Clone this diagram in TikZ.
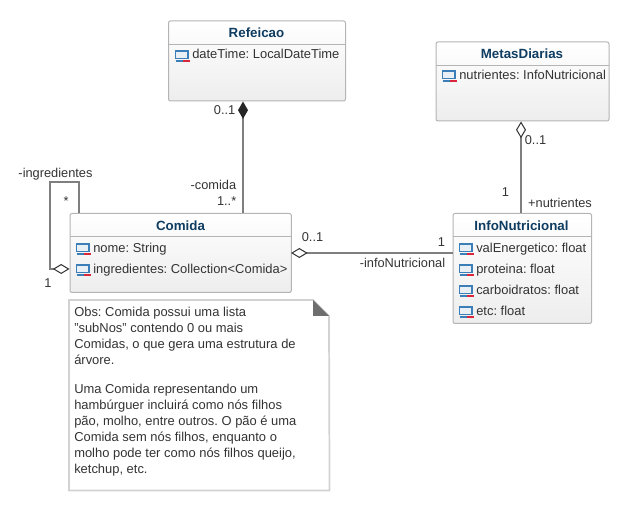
\documentclass[tikz,border=0pt]{standalone}
\usepackage{fontspec}
\setmainfont{Liberation Sans}
\usetikzlibrary{arrows.meta}
\definecolor{titleblue}{HTML}{0F3D61}
\definecolor{textgray}{HTML}{333333}
\definecolor{boxgray}{HTML}{B4B4B4}
\definecolor{linegray}{HTML}{7F7F7F}
\definecolor{notegray}{HTML}{D2D2D2}
\definecolor{foldgray}{HTML}{6E6E6E}
\definecolor{iconblue}{HTML}{3C7FB8}
\definecolor{iconred}{HTML}{D9263A}
\tikzset{
	classbox/.style={shape=rectangle, rounded corners=1.5pt, draw=boxgray, line width=0.75pt, top color=white, bottom color=black!7, anchor=north west, inner sep=0pt},
	classtitle/.style={font=\fontsize{10}{12}\selectfont\bfseries, text=titleblue, anchor=center, inner sep=0pt},
	attrlabel/.style={font=\fontsize{9.7}{11}\selectfont\frenchspacing, text=textgray, anchor=base west, inner sep=0pt},
	endlabel/.style={font=\fontsize{9.6}{11}\selectfont, text=textgray, inner sep=0pt},
	divline/.style={draw=boxgray, line width=0.75pt},
	assocline/.style={draw=linegray, line width=1.5pt},
	aggrline/.style={assocline, {Diamond[open, fill=white, length=12.5pt, width=7.5pt, line width=0.75pt, color=textgray]}-},
	compline/.style={assocline, {Diamond[length=13pt, width=7.5pt, color=black!85]}-},
	attricon/.pic={
		\draw[draw=iconblue, fill=iconblue!12, line width=0.85pt] (-6.5,-4) rectangle (6,3.5);
		\draw[draw=iconblue, line width=0.85pt] (-6.5,6) -- (2,6);
		\fill[iconred] (1,4.7) rectangle (7.7,7.2);
	}
}
\begin{document}
\begin{tikzpicture}[x=0.75pt, y=-0.75pt]
	\useasboundingbox (0,0) rectangle (635,516);

	\node[classbox, minimum width=132.75pt, minimum height=60pt] (refeicao) at (168,20.5){};
	\node[classbox, minimum width=166pt, minimum height=59.25pt] (comida) at (69.5,213){};
	\node[classbox, minimum width=129.75pt, minimum height=59.25pt] (metas) at (435.5,41.5){};
	\node[classbox, minimum width=104pt, minimum height=82.5pt] (info) at (452.5,213){};

	\foreach \nm/\wd in {refeicao/177, comida/221.5, metas/173, info/138.5}{
		\draw[divline] (\nm.north west) ++(0,24) -- ++(\wd,0);
	}

	\node[classtitle] (refeicaoTitle) at (256.5,32.5){Refeicao};
	\node[classtitle] (comidaTitle) at (180.5,225.5){Comida};
	\node[classtitle] (metasTitle) at (522,53.5){MetasDiarias};
	\node[classtitle] (infoTitle) at (521.5,225.5){InfoNutricional};

	\pic at (182,55) {attricon};
	\node[attrlabel] (dateTime) at (192,59){dateTime: LocalDateTime};
	\pic at (83,248) {attricon};
	\node[attrlabel] (nome) at (93,252.5){nome: String};
	\pic at (83,269) {attricon};
	\node[attrlabel] (ingredientes) at (93,273.5){ingredientes: Collection<Comida>};
	\pic at (449,75) {attricon};
	\node[attrlabel] (nutrientes) at (459,80){nutrientes: InfoNutricional};
	\pic at (466,248) {attricon};
	\node[attrlabel] (valEnergetico) at (476,252.5){valEnergetico: float};
	\pic at (466,269) {attricon};
	\node[attrlabel] (proteina) at (476,273.5){proteina: float};
	\pic at (466,290) {attricon};
	\node[attrlabel] (carboidratos) at (476,294.5){carboidratos: float};
	\pic at (466,311) {attricon};
	\node[attrlabel] (etc) at (476,315.5){etc: float};

	\coordinate (comidaTop) at (243,213);
	\coordinate (loopTop) at (79,213);
	\coordinate (loopLeft) at (50,182);
	\coordinate (loopEnd) at (69.5,269);
	\coordinate (comidaRight) at (291,253);
	\coordinate (infoTop) at (521,213);

	\draw[compline] (refeicao.south -| comidaTop) -- (comidaTop);
	\draw[aggrline] (loopEnd) -- (loopEnd -| loopLeft) -- (loopLeft) -- (loopLeft -| loopTop) -- (loopTop);
	\draw[aggrline] (comidaRight) -- (comidaRight -| info.west);
	\draw[aggrline] (metas.south -| infoTop) -- (infoTop);

	\node[endlabel, anchor=east] (refeicaoMult) at (235.5,110){0..1};
	\node[endlabel, anchor=east] (comidaRole) at (236.5,185){-comida};
	\node[endlabel, anchor=east] (comidaMult) at (236.5,201){1..*};
	\node[endlabel] (loopRole) at (55.5,174){-ingredientes};
	\node[endlabel] (loopStar) at (66,201){*};
	\node[endlabel] (loopMult) at (48,283){1};
	\node[endlabel] (comidaInfoMult) at (312.5,237){0..1};
	\node[endlabel] (infoMult) at (441.5,242){1};
	\node[endlabel] (infoRole) at (402.5,263){-infoNutricional};
	\node[endlabel] (metasMult) at (535.5,140){0..1};
	\node[endlabel] (infoTopMult) at (505.5,192){1};
	\node[endlabel] (infoTopRole) at (560,202.5){+nutrientes};

	\node[shape=rectangle, minimum width=195pt, minimum height=142.5pt, anchor=north west, inner sep=0pt] (obs) at (69,300){};
	\draw[draw=notegray, line width=1.3pt] (obs.north west) -- (313,300) -- (329,316) -- (obs.south east) -- (obs.south west) -- cycle;
	\fill[foldgray] (313,300) -- (329,316) -- (313,316) -- cycle;
	\node[anchor=north west, align=left, inner sep=0pt, text=textgray, font=\fontsize{9.7}{12}\selectfont\frenchspacing] (obsText) at (74,307){Obs: Comida possui uma lista\\"subNos" contendo 0 ou mais\\Comidas, o que gera uma estrutura de\\árvore.\\[10pt]Uma Comida representando um\\hambúrguer incluirá como nós filhos\\pão, molho, entre outros. O pão é uma\\Comida sem nós filhos, enquanto o\\molho pode ter como nós filhos queijo,\\ketchup, etc.};
\end{tikzpicture}
\end{document}
